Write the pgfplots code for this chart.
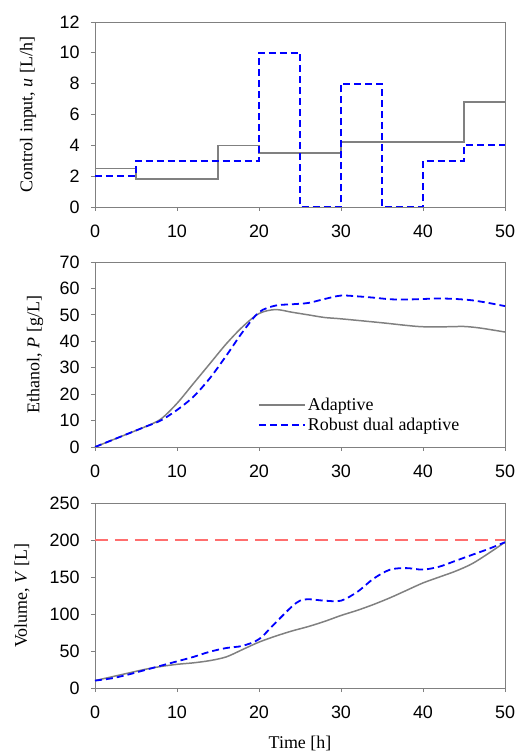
\documentclass[border=0pt]{standalone}
\usepackage{fontspec}
\setmainfont{Liberation Serif}
\newfontfamily\arial{Liberation Sans}
\usepackage{pgfplots}
\pgfplotsset{compat=1.18}

\definecolor{adgray}{RGB}{128,128,128}
\definecolor{rdblue}{RGB}{0,0,255}
\definecolor{limred}{RGB}{255,110,110}

\tikzset{
  adapt/.style={draw=adgray, line width=1.5pt},
  robust/.style={draw=rdblue, line width=1.8pt, dash pattern=on 7bp off 4bp},
}
\pgfplotsset{
  panel/.style={
    scale only axis, width=410bp, height=185bp,
    xmin=0, xmax=50, xtick={0,10,...,50},
    axis line style={adgray, line width=0.8pt},
    tick style={adgray, line width=0.8pt},
    tick align=outside, tick pos=left,
    major tick length=4bp,
    ticklabel style={font=\arial\fontsize{18}{18}\selectfont},
    xticklabel style={yshift=-10bp},
    yticklabel style={xshift=-8bp},
    /pgf/number format/assume math mode=true,
  },
  ylab/.style={every axis y label/.style={
    at={(axis description cs:0,0.5)}, xshift=-#1, rotate=90, anchor=center,
    font=\fontsize{18}{18}\selectfont}},
}

\begin{document}
\begin{tikzpicture}
\path[use as bounding box] (-95bp,-66bp) rectangle (421bp,688bp);
% control input
\begin{axis}[panel, at={(0,481bp)}, ylab=67bp,
    ymin=0, ymax=12, ytick={0,2,...,12},
    ylabel={Control input, \textit{u} [L/h]}]
  \addplot[adapt, const plot] coordinates {
    (0,2.5) (5,1.8) (15,4.0) (20,3.5) (30,4.2) (45,6.8) (50,6.8)};
  \addplot[robust, const plot] coordinates {
    (0,2) (5,3) (20,10) (25,0) (30,8) (35,0) (40,3) (45,4) (50,4)};
\end{axis}
% ethanol
\begin{axis}[panel, at={(0,241bp)}, ylab=60bp,
    ymin=0, ymax=70, ytick={0,10,...,70},
    ylabel={Ethanol, \textit{P} [g/L]},
    legend style={draw=none, fill=none, at={(0.39,0.06)}, anchor=south west,
                  font=\fontsize{18}{18}\selectfont, row sep=2bp,
                  cells={anchor=west}},
    legend image code/.code={\draw[#1] (0bp,0bp) -- (46bp,0bp);}]
  \addplot[adapt, smooth] coordinates {
    (0,0) (2,2.5) (4,5) (6,7.5) (8,10.5) (10,16.5) (12,24) (14,31.5)
    (16,39) (18,45.5) (20,50.5) (22,52) (24,51) (26,50) (28,49) (30,48.5)
    (35,47) (38,46) (40,45.5) (43,45.5) (45,45.6) (47,45) (50,43.5)};
  \addlegendentry{Adaptive}
  \addplot[robust, smooth] coordinates {
    (0,0) (2,2.5) (4,5) (6,7.5) (8,10) (10,14) (12,19) (14,26) (16,34.5)
    (18,43.5) (20,51) (22,53.5) (24,54) (26,54.5) (28,56) (30,57.3) (32,57)
    (34,56.5) (36,55.9) (38,55.8) (40,56) (42,56.2) (44,56) (46,55.5)
    (48,54.5) (50,53.3)};
  \addlegendentry{Robust dual adaptive}
\end{axis}
% volume
\begin{axis}[panel, at={(0,0bp)}, ylab=73bp,
    ymin=0, ymax=250, ytick={0,50,...,250},
    ylabel={Volume, \textit{V} [L]},
    xlabel={Time [h]},
    every axis x label/.style={at={(axis description cs:0.5,0)},
                               yshift=-55bp, anchor=center,
                               font=\fontsize{18}{18}\selectfont}]
  \addplot[limred, line width=1.2pt, dash pattern=on 13bp off 7bp]
    coordinates {(0,200) (50,200)};
  \addplot[adapt, smooth] coordinates {
    (0,10) (2,15) (4,20) (6,25) (8,29) (10,32) (12,34) (14,37) (16,42)
    (18,52) (20,62) (22,70) (24,77) (26,83) (28,90) (30,98) (32,105)
    (34,113) (36,122) (38,132) (40,142) (42,150) (44,158) (46,168)
    (48,182) (50,197)};
  \addplot[robust, smooth] coordinates {
    (0,10) (2,13) (4,18) (6,24) (8,30) (10,36) (12,42) (14,49) (16,54)
    (18,57) (20,66) (22,88) (24,110) (25,118) (26,120) (28,118) (30,118)
    (32,130) (34,148) (36,160) (38,162) (40,160) (42,164) (44,172)
    (46,180) (48,188) (50,197)};
\end{axis}
\end{tikzpicture}
\end{document}
